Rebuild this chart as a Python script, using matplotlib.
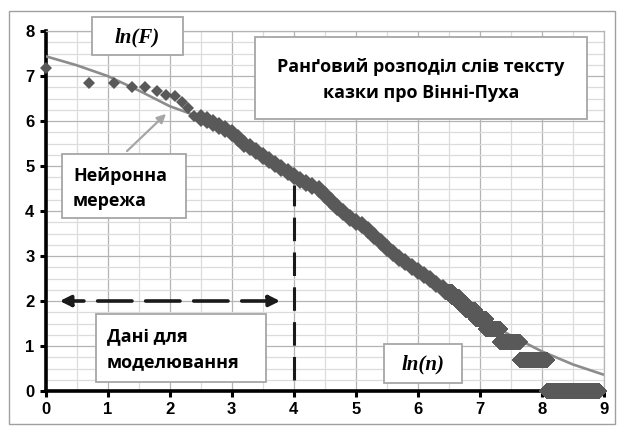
import numpy as np
import matplotlib.pyplot as plt
import matplotlib.ticker as ticker
from matplotlib.patches import Rectangle, FancyArrowPatch

# ─────────────────────────────────────────────
# Дані
# ─────────────────────────────────────────────

# ln(F) для рангів 1..11
top_ln_F = [7.18, 6.84, 6.84, 6.76, 6.75, 6.67, 6.58, 6.56, 6.43, 6.30, 6.11]

# середня частина: (ln n, ln F)
mid_ln_n = [2.50, 2.60, 2.70, 2.80, 2.90, 3.00, 3.10, 3.20, 3.30, 3.40,
            3.50, 3.60, 3.70, 3.80, 3.90, 4.00, 4.10, 4.20, 4.30, 4.40,
            4.50, 4.60, 4.70, 4.80, 4.90, 5.00, 5.10, 5.20, 5.30, 5.40,
            5.50, 5.60, 5.70, 5.80, 5.90, 6.00, 6.10, 6.20, 6.30, 6.40]
mid_ln_F = [6.07, 6.02, 5.95, 5.88, 5.82, 5.74, 5.62, 5.50, 5.42, 5.33,
            5.23, 5.13, 5.04, 4.95, 4.86, 4.77, 4.69, 4.62, 4.55, 4.48,
            4.36, 4.22, 4.08, 3.98, 3.85, 3.76, 3.69, 3.58, 3.44, 3.32,
            3.18, 3.06, 2.96, 2.86, 2.76, 2.67, 2.57, 2.48, 2.38, 2.28]

# хвіст: частота слова та перший ранг з цією частотою
tail_freq = [9, 8, 7, 6, 5, 4, 3, 2, 1]
tail_first_rank = [630, 700, 780, 870, 1022, 1212, 1525, 2080, 3230]
last_rank = 7480

# нейронна мережа
nn_ln_n = [0.0, 0.5, 1.0, 1.5, 2.0, 2.5, 3.0, 3.5, 4.0, 4.5,
           5.0, 5.5, 6.0, 6.5, 7.0, 7.5, 8.0, 8.5, 9.0]
nn_ln_F = [7.44, 7.24, 7.00, 6.68, 6.33, 6.08, 5.72, 5.22, 4.76, 4.28,
           3.72, 3.17, 2.65, 2.12, 1.64, 1.23, 0.88, 0.59, 0.36]

# ─────────────────────────────────────────────

plt.rcParams["font.family"] = ["Liberation Sans", "DejaVu Sans"]
plt.rcParams["font.weight"] = "bold"

W, H = 621, 429
fig = plt.figure(figsize=(W / 100, H / 100), dpi=100)
ax = fig.add_axes([45.5 / W, 38 / H, (604 - 45.5) / W, (391 - 31) / H])


def fx(px):
    return px / W


def fy(py):
    return 1 - py / H


def box(x0, y0, x1, y1, ec="#a6a6a6", lw=1.3):
    r = Rectangle((fx(x0), fy(y1)), fx(x1) - fx(x0), fy(y0) - fy(y1),
                  transform=fig.transFigure, facecolor="white",
                  edgecolor=ec, linewidth=lw, zorder=5)
    fig.patches.append(r)


# рамка діаграми
fig.patches.append(Rectangle((fx(9), fy(424)), fx(615) - fx(9), fy(11) - fy(424),
                             transform=fig.transFigure, fill=False,
                             edgecolor="#a0a0a0", linewidth=1.0))

# сітка
ax.set_xlim(0, 9)
ax.set_ylim(0, 8)
ax.xaxis.set_major_locator(ticker.MultipleLocator(1))
ax.yaxis.set_major_locator(ticker.MultipleLocator(1))
ax.xaxis.set_minor_locator(ticker.MultipleLocator(0.5))
ax.yaxis.set_minor_locator(ticker.MultipleLocator(0.25))
ax.grid(True, which="major", color="#b4b4b4", linewidth=0.9)
ax.grid(True, which="minor", color="#dcdcdc", linewidth=0.9)
ax.set_axisbelow(True)

for s in ("top", "right"):
    ax.spines[s].set_color("#b4b4b4")
    ax.spines[s].set_linewidth(0.9)
for s in ("left", "bottom"):
    ax.spines[s].set_color("black")
    ax.spines[s].set_linewidth(2.6)
ax.tick_params(which="major", direction="out", length=4, width=2.2,
               labelsize=12, pad=4)
ax.tick_params(which="minor", length=0)

# точки
ranks_top = np.arange(1, len(top_ln_F) + 1)
ax.plot(np.log(ranks_top), top_ln_F, "D", color="#595959", ms=6, mew=0,
        zorder=4, clip_on=False)
ax.plot(mid_ln_n, mid_ln_F, "D", color="#595959", ms=9, mew=0, zorder=4)
ends = tail_first_rank[1:] + [last_rank + 1]
for f, r0, r1 in zip(tail_freq, tail_first_rank, ends):
    r = np.arange(r0, r1)
    ax.plot(np.log(r), np.full(len(r), np.log(f)), "D", color="#595959",
            ms=8.5, mew=0, zorder=4, clip_on=False)

ax.plot(nn_ln_n, nn_ln_F, color="#8c8c8c", linewidth=1.9, zorder=3,
        solid_capstyle="butt")

# пунктирні лінії
ax.annotate("", xy=(0.23, 2), xytext=(3.78, 2),
            arrowprops=dict(arrowstyle="<|-|>", color="#1a1a1a", lw=2.6,
                            linestyle=(0, (9.5, 3.8)), mutation_scale=16,
                            shrinkA=0, shrinkB=0), zorder=6)
ax.plot([4, 4], [0.25, 4.58], color="#1a1a1a", lw=2.2, dashes=(7.7, 3.7),
        zorder=6)

# стрілка до кривої
fig.patches.append(FancyArrowPatch((fx(125), fy(153)), (fx(168), fy(112)),
                                   transform=fig.transFigure,
                                   arrowstyle="-|>", mutation_scale=13,
                                   color="#a6a6a6", lw=1.6, zorder=4))

# написи
cyr = ["Open Sans", "DejaVu Sans"]
box(92, 17, 183, 55)
fig.text(fx(137.5), fy(37), "ln(F)", ha="center", va="center",
         family="Liberation Serif", style="italic", weight="bold",
         fontsize=15, zorder=6)

box(255, 37, 587, 119)
fig.text(fx(421), fy(80), "Ранґовий розподіл слів тексту\nказки про Вінні-Пуха",
         ha="center", va="center", family=cyr, weight="bold", fontsize=13,
         linespacing=1.5, zorder=6)

box(62, 154, 186, 218)
fig.text(fx(73), fy(188), "Нейронна\nмережа", ha="left", va="center",
         family=cyr, weight="bold", fontsize=13, linespacing=1.5, zorder=6)

box(96, 314, 266, 382)
fig.text(fx(107), fy(350), "Дані для\nмоделювання", ha="left", va="center",
         family=cyr, weight="bold", fontsize=13, linespacing=1.5, zorder=6)

box(384, 344, 462, 383)
fig.text(fx(423), fy(364), "ln(n)", ha="center", va="center",
         family="Liberation Serif", style="italic", weight="bold",
         fontsize=15, zorder=6)

fig.savefig("out.png", dpi=100)
